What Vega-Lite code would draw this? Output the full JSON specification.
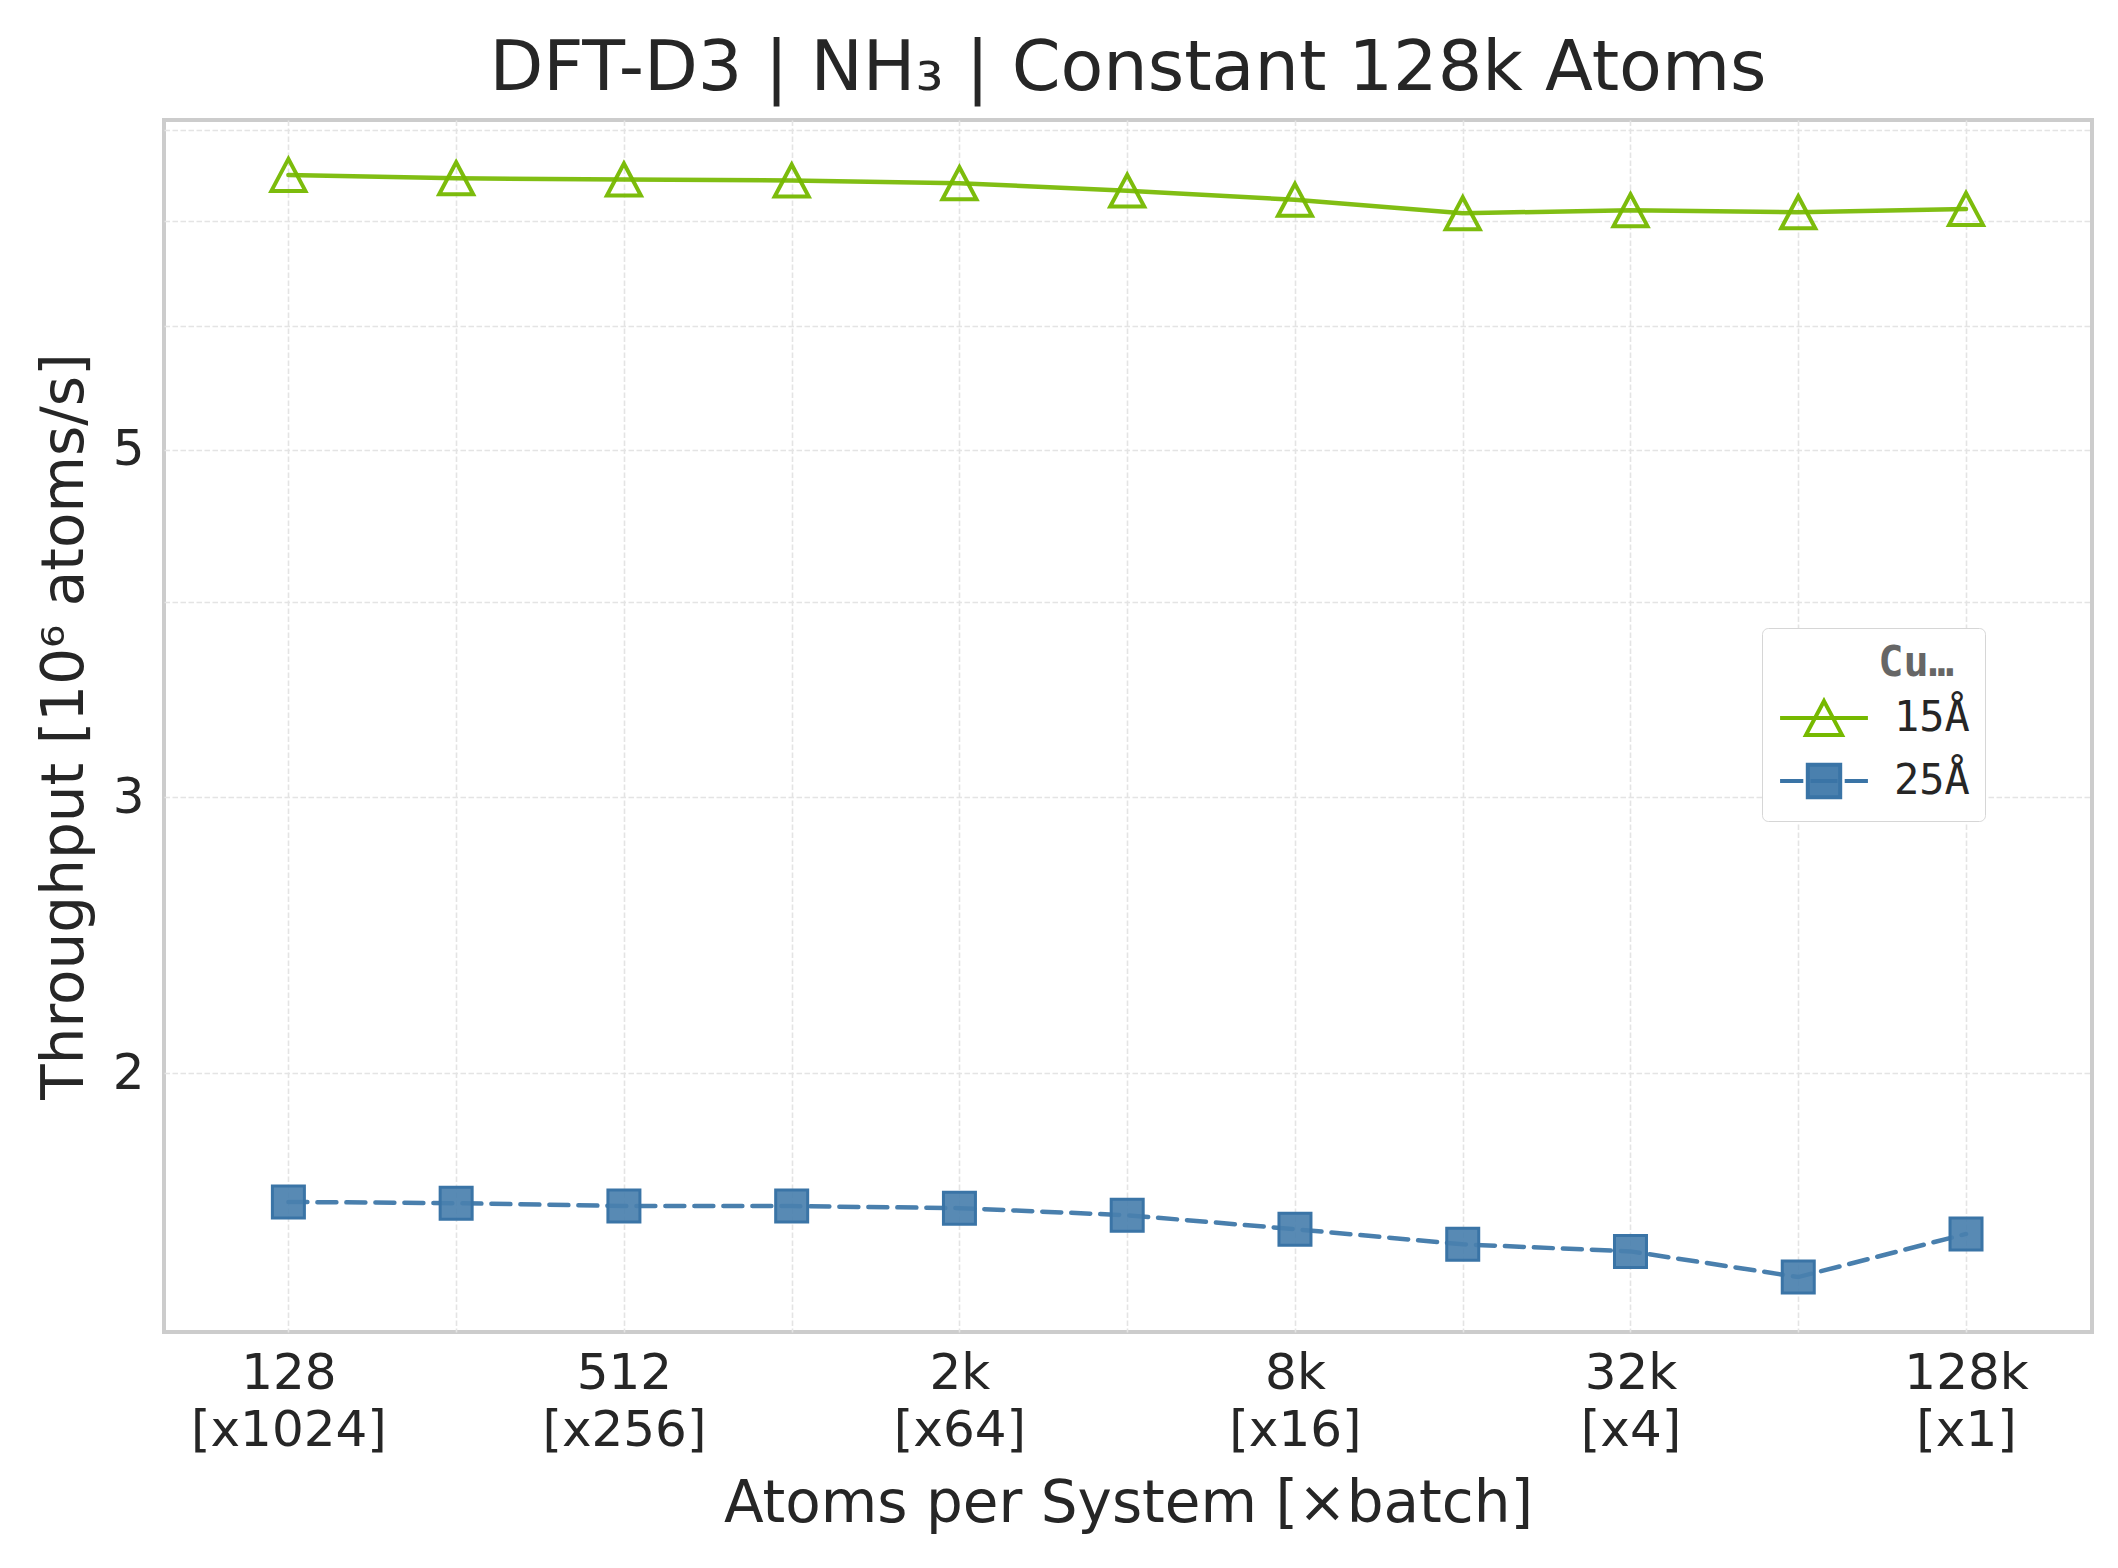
{
  "$schema": "https://vega.github.io/schema/vega-lite/v6.json",
  "autosize": {"type": "none"},
  "width": 1928,
  "height": 1212,
  "padding": {"left": 164, "top": 120, "right": 26, "bottom": 236},
  "background": "white",
  "title": {
    "text": "DFT-D3 | NH₃ | Constant 128k Atoms",
    "font": "DejaVu Sans",
    "fontSize": 70,
    "fontWeight": "normal",
    "color": "#262626",
    "anchor": "middle",
    "offset": 0
  },
  "config": {
    "view": {"stroke": "#cccccc", "strokeWidth": 4},
    "axis": {
      "domain": false,
      "ticks": false,
      "labelFont": "DejaVu Sans",
      "labelFontSize": 50,
      "labelColor": "#262626",
      "labelLimit": 500,
      "titleFont": "DejaVu Sans",
      "titleFontSize": 58,
      "titleFontWeight": "normal",
      "titleColor": "#262626",
      "gridColor": "#e4e4e4",
      "gridWidth": 1.6,
      "gridDash": [5.5, 2.5]
    },
    "legend": {
      "orient": "none",
      "legendX": 1598,
      "legendY": 508,
      "padding": 15,
      "fillColor": "white",
      "strokeColor": "#d6d6d6",
      "cornerRadius": 6,
      "titleFont": "DejaVu Sans Mono",
      "titleFontSize": 42,
      "titleFontWeight": "bold",
      "titleColor": "#666666",
      "titlePadding": 12,
      "labelFont": "DejaVu Sans Mono",
      "labelFontSize": 42,
      "labelColor": "#262626",
      "symbolOffset": 26,
      "labelOffset": 49,
      "rowPadding": 13,
      "symbolSize": 1296,
      "symbolStrokeWidth": 4,
      "symbolOpacity": 1
    }
  },
  "data": {
    "values": [
      {"atoms": 128, "cutoff": "15Å", "throughput": 7.487},
      {"atoms": 256, "cutoff": "15Å", "throughput": 7.450},
      {"atoms": 512, "cutoff": "15Å", "throughput": 7.437},
      {"atoms": 1024, "cutoff": "15Å", "throughput": 7.426},
      {"atoms": 2048, "cutoff": "15Å", "throughput": 7.396},
      {"atoms": 4096, "cutoff": "15Å", "throughput": 7.316},
      {"atoms": 8192, "cutoff": "15Å", "throughput": 7.218},
      {"atoms": 16384, "cutoff": "15Å", "throughput": 7.077},
      {"atoms": 32768, "cutoff": "15Å", "throughput": 7.109},
      {"atoms": 65536, "cutoff": "15Å", "throughput": 7.087},
      {"atoms": 131072, "cutoff": "15Å", "throughput": 7.122},
      {"atoms": 128, "cutoff": "25Å", "throughput": 1.656},
      {"atoms": 256, "cutoff": "25Å", "throughput": 1.653},
      {"atoms": 512, "cutoff": "25Å", "throughput": 1.646},
      {"atoms": 1024, "cutoff": "25Å", "throughput": 1.646},
      {"atoms": 2048, "cutoff": "25Å", "throughput": 1.641},
      {"atoms": 4096, "cutoff": "25Å", "throughput": 1.624},
      {"atoms": 8192, "cutoff": "25Å", "throughput": 1.591},
      {"atoms": 16384, "cutoff": "25Å", "throughput": 1.556},
      {"atoms": 32768, "cutoff": "25Å", "throughput": 1.540},
      {"atoms": 65536, "cutoff": "25Å", "throughput": 1.483},
      {"atoms": 131072, "cutoff": "25Å", "throughput": 1.580}
    ]
  },
  "encoding": {
    "x": {
      "field": "atoms",
      "type": "quantitative",
      "scale": {"type": "log", "base": 2, "domain": [76.56, 220585], "nice": false},
      "axis": {
        "title": "Atoms per System [×batch]",
        "values": [128, 256, 512, 1024, 2048, 4096, 8192, 16384, 32768, 65536, 131072],
        "labelExpr": "datum.value == 128 ? ['128', '[x1024]'] : datum.value == 512 ? ['512', '[x256]'] : datum.value == 2048 ? ['2k', '[x64]'] : datum.value == 8192 ? ['8k', '[x16]'] : datum.value == 32768 ? ['32k', '[x4]'] : datum.value == 131072 ? ['128k', '[x1]'] : ''",
        "labelPadding": 16,
        "labelLineHeight": 57,
        "labelFlush": false,
        "labelOverlap": false,
        "titlePadding": 20
      }
    },
    "y": {
      "field": "throughput",
      "type": "quantitative",
      "scale": {"type": "log", "domain": [1.368, 8.116], "nice": false, "zero": false},
      "axis": {
        "title": "Throughput [10⁶ atoms/s]",
        "values": [2, 3, 4, 5, 6, 7, 8],
        "labelExpr": "indexof([2, 3, 5], datum.value) >= 0 ? '' + datum.value : ''",
        "labelPadding": 20,
        "labelFlush": false,
        "labelOverlap": false,
        "titlePadding": 18
      }
    }
  },
  "layer": [
    {
      "transform": [{"filter": "datum.cutoff === '15Å'"}],
      "mark": {"type": "line", "stroke": "#76b900", "strokeWidth": 4.5, "strokeCap": "round", "opacity": 0.92}
    },
    {
      "transform": [{"filter": "datum.cutoff === '25Å'"}],
      "mark": {"type": "line", "stroke": "#3a74a6", "strokeWidth": 4.5, "strokeCap": "round", "strokeDash": [19, 10], "opacity": 0.92}
    },
    {
      "transform": [{"filter": "datum.cutoff === '15Å'"}],
      "mark": {
        "type": "point",
        "shape": "M0,-0.94L1,0.94L-1,0.94Z",
        "size": 1156,
        "filled": false,
        "stroke": "#76b900",
        "strokeWidth": 4,
        "opacity": 0.95
      }
    },
    {
      "transform": [{"filter": "datum.cutoff === '25Å'"}],
      "mark": {
        "type": "point",
        "shape": "square",
        "size": 1024,
        "filled": true,
        "fill": "#4a80ae",
        "fillOpacity": 0.92,
        "stroke": "#3a74a6",
        "strokeWidth": 3,
        "strokeOpacity": 1
      }
    },
    {
      "mark": {
        "type": "point",
        "filled": true,
        "size": 0,
        "strokeWidth": 4,
        "fillOpacity": 0.9
      },
      "encoding": {
        "shape": {
          "field": "cutoff",
          "type": "nominal",
          "title": "\u200d\u00a0\u00a0\u00a0\u00a0Cutoff",
          "scale": {"domain": ["15Å", "25Å"], "range": ["M-2.44,0H2.44M0,-0.94L1,0.94L-1,0.94Z", "M-2.44,0H-1.15M1.15,0H2.44M-0.75,0H0.75M-0.9,-0.9H0.9V0.9H-0.9Z"]}
        },
        "stroke": {
          "field": "cutoff",
          "type": "nominal",
          "title": "\u200d\u00a0\u00a0\u00a0\u00a0Cutoff",
          "scale": {"domain": ["15Å", "25Å"], "range": ["#76b900", "#3a74a6"]}
        },
        "fill": {
          "field": "cutoff",
          "type": "nominal",
          "title": "\u200d\u00a0\u00a0\u00a0\u00a0Cutoff",
          "scale": {"domain": ["15Å", "25Å"], "range": ["transparent", "#4a80ae"]}
        }
      }
    }
  ]
}
